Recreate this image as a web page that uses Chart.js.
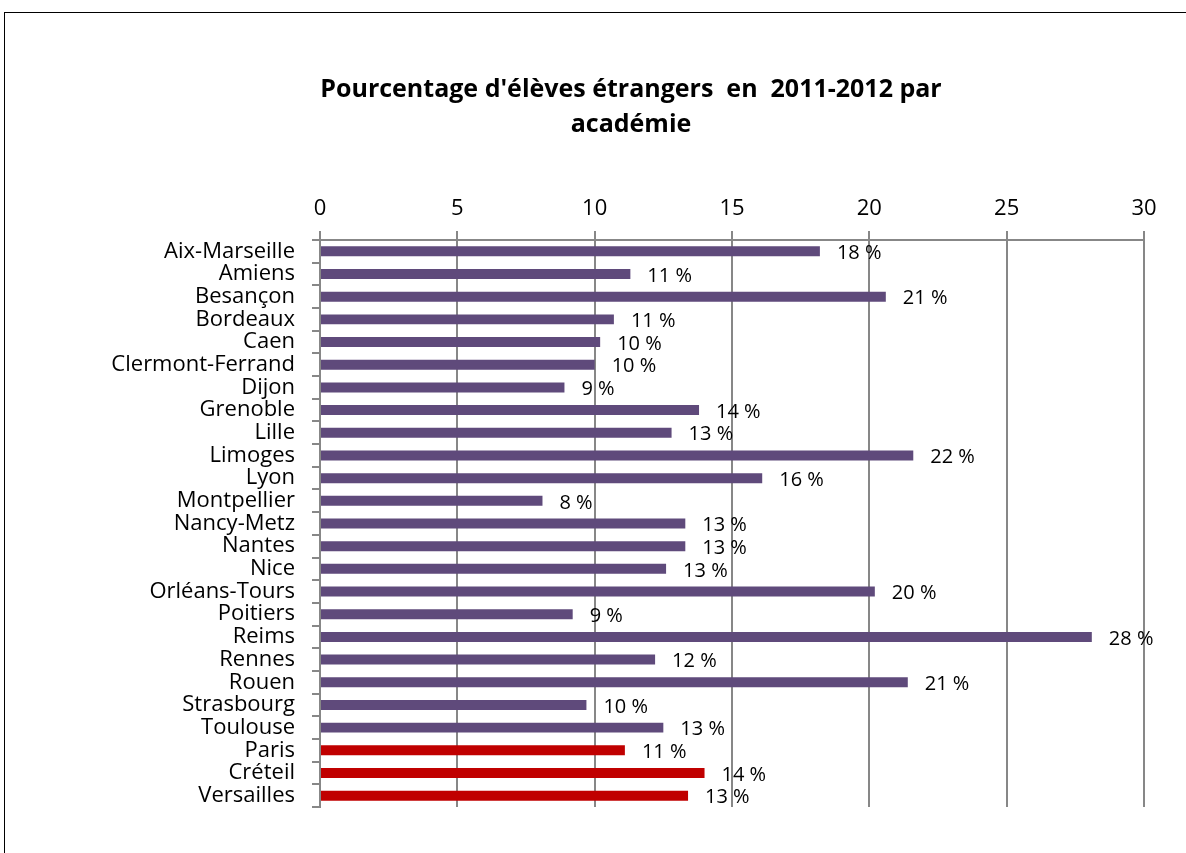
<!DOCTYPE html>
<html>
<head>
<meta charset="utf-8">
<script src="https://cdn.jsdelivr.net/npm/chart.js@4.4.0/dist/chart.umd.min.js"></script>
<style>
  html, body { margin: 0; padding: 0; background: #fff; overflow: hidden; }
  #wrap { position: relative; width: 1186px; height: 853px; }
  #frame { position: absolute; left: 4px; top: 12px; width: 1300px; height: 1000px; border: 1px solid #000; }
  canvas { position: absolute; left: 0; top: 0; }
</style>
</head>
<body>
<div id="wrap">
  <div id="frame"></div>
  <canvas id="bar-chart" width="1186" height="853"></canvas>
</div>
<script>
// Academies and share of foreign pupils (%)
var academies = ['Aix-Marseille', 'Amiens', 'Besançon', 'Bordeaux', 'Caen', 'Clermont-Ferrand', 'Dijon',
  'Grenoble', 'Lille', 'Limoges', 'Lyon', 'Montpellier', 'Nancy-Metz', 'Nantes', 'Nice', 'Orléans-Tours',
  'Poitiers', 'Reims', 'Rennes', 'Rouen', 'Strasbourg', 'Toulouse', 'Paris', 'Créteil', 'Versailles'];
var shares = [18.2, 11.3, 20.6, 10.7, 10.2, 10.0, 8.9, 13.8, 12.8, 21.6, 16.1, 8.1, 13.3, 13.3, 12.6, 20.2,
  9.2, 28.1, 12.2, 21.4, 9.7, 12.5, 11.1, 14.0, 13.4];
var shareLabels = ['18 %', '11 %', '21 %', '11 %', '10 %', '10 %', '9 %', '14 %', '13 %', '22 %', '16 %', '8 %',
  '13 %', '13 %', '13 %', '20 %', '9 %', '28 %', '12 %', '21 %', '10 %', '13 %', '11 %', '14 %', '13 %'];
var ileDeFrance = ['Paris', 'Créteil', 'Versailles'];
var xTicks = [0, 5, 10, 15, 20, 25, 30];

var titleLines = ["Pourcentage d'élèves étrangers  en  2011-2012 par", 'académie'];

var purple = '#5f4a7b';
var red = '#c00000';
var gridColor = '#878787';
var fontName = '"Open Sans", Lato, sans-serif';

var barColors = academies.map(function (a) {
  return ileDeFrance.indexOf(a) >= 0 ? red : purple;
});

// title drawn by hand so it can sit over the plot like in the original
var titlePlugin = {
  id: 'manualTitle',
  afterDraw: function (chart) {
    var ctx = chart.ctx;
    ctx.save();
    ctx.fillStyle = '#000';
    ctx.font = 'bold 25px ' + fontName;
    ctx.textAlign = 'center';
    ctx.textBaseline = 'middle';
    ctx.fillText(titleLines[0], 631, 90);
    ctx.fillText(titleLines[1], 631, 125);
    ctx.restore();
  }
};

// value labels to the right of each bar
var valueLabels = {
  id: 'valueLabels',
  afterDatasetsDraw: function (chart) {
    var ctx = chart.ctx;
    var meta = chart.getDatasetMeta(0);
    ctx.save();
    ctx.fillStyle = '#000';
    ctx.font = '20px ' + fontName;
    ctx.textAlign = 'left';
    ctx.textBaseline = 'middle';
    meta.data.forEach(function (bar, i) {
      ctx.fillText(shareLabels[i], bar.x + 17, bar.y + 2);
    });
    ctx.restore();
  }
};

var ctx = document.getElementById('bar-chart').getContext('2d');
var chart = new Chart(ctx, {
  type: 'bar',
  data: {
    labels: academies,
    datasets: [{
      data: shares,
      backgroundColor: barColors,
      borderWidth: 0,
      barPercentage: 0.44,
      categoryPercentage: 1.0
    }]
  },
  options: {
    indexAxis: 'y',
    responsive: false,
    animation: false,
    layout: {
      padding: { top: 180, right: 42, bottom: 46, left: 0 }
    },
    scales: {
      x: {
        position: 'top',
        min: 0,
        max: 30,
        afterBuildTicks: function (scale) {
          scale.ticks = xTicks.map(function (v) { return { value: v }; });
        },
        afterFit: function (scale) { scale.height = 60; },
        grid: {
          color: gridColor,
          lineWidth: 2,
          tickLength: 9
        },
        border: { color: gridColor, width: 2 },
        ticks: {
          color: '#000',
          font: { family: fontName, size: 22 },
          padding: 9,
          maxRotation: 0
        }
      },
      y: {
        afterFit: function (scale) { scale.width = 320; },
        grid: {
          drawOnChartArea: false,
          color: gridColor,
          lineWidth: 2,
          tickLength: 8,
          offset: true
        },
        border: { color: gridColor, width: 2 },
        ticks: {
          color: '#000',
          font: { family: fontName, size: 22 },
          padding: 17,
          autoSkip: false
        }
      }
    },
    plugins: {
      legend: { display: false },
      title: { display: false },
      tooltip: { enabled: false }
    }
  },
  plugins: [titlePlugin, valueLabels]
});
</script>
</body>
</html>
